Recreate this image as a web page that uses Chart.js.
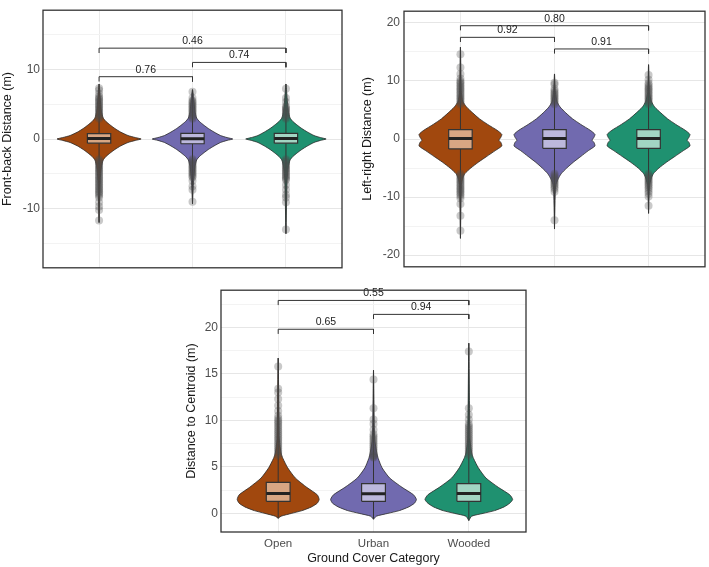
<!DOCTYPE html>
<html>
<head>
<meta charset="utf-8">
<script src="https://cdn.jsdelivr.net/npm/chart.js@4.4.1/dist/chart.umd.min.js"></script>
<style>
  body { margin: 0; background: #fff; width: 709px; height: 567px; position: relative; overflow: hidden; }
  .panel { position: absolute; }
</style>
</head>
<body>
<div class="panel" style="left:0;top:0;width:346px;height:278px"><canvas id="fbChart"></canvas></div>
<div class="panel" style="left:350px;top:0;width:359px;height:278px"><canvas id="lrChart"></canvas></div>
<div class="panel" style="left:180px;top:280px;width:350px;height:287px"><canvas id="dcChart"></canvas></div>
<script>
const categories = ['Open', 'Urban', 'Wooded'];
const pairs = [[1, 2], [2, 3], [1, 3]];

// ---- Front-back distance ----
const fbTicks = [-15, -10, -5, 0, 5, 10, 15];
const fbLevels = [-6, -4, -3, -2.5, -2, -1.5, -1, -0.5, -0.2, 0, 0.2, 0.5, 1, 1.5, 2, 2.5, 3, 4, 6];
const fbOpenW = [0.012, 0.025, 0.045, 0.075, 0.12, 0.17, 0.23, 0.31, 0.39, 0.45, 0.39, 0.31, 0.23, 0.17, 0.12, 0.075, 0.045, 0.025, 0.012];
const fbUrbanW = [0.012, 0.025, 0.045, 0.075, 0.12, 0.17, 0.23, 0.30, 0.37, 0.43, 0.37, 0.30, 0.23, 0.17, 0.12, 0.075, 0.045, 0.025, 0.012];
const fbWoodedW = [0.012, 0.025, 0.045, 0.075, 0.12, 0.17, 0.23, 0.30, 0.37, 0.43, 0.37, 0.30, 0.23, 0.17, 0.12, 0.075, 0.045, 0.025, 0.012];
const fbMin = [-12.0, -9.3, -13.6];
const fbMax = [7.9, 7.1, 7.9];
const fbQ1 = [-0.6, -0.68, -0.6];
const fbMed = [0.08, 0.05, 0.08];
const fbQ3 = [0.77, 0.82, 0.8];
const fbOpenPts = [2.9, 3.1, 3.3, 3.5, 3.7, 3.9, 4.1, 4.3, 4.5, 4.7, 4.9, 5.1, 5.3, 5.5, 5.7, 5.9, 6.1, 6.5, 7.0, 7.3,
  -2.9, -3.1, -3.3, -3.5, -3.7, -3.9, -4.1, -4.3, -4.5, -4.7, -4.9, -5.1, -5.3, -5.5, -5.7, -5.9, -6.1, -6.3, -6.5,
  -6.7, -6.9, -7.1, -7.3, -7.5, -7.7, -7.9, -8.1, -8.4, -9.1, -9.7, -10.2, -11.7];
const fbUrbanPts = [2.9, 3.1, 3.3, 3.5, 3.7, 3.9, 4.1, 4.3, 4.5, 4.7, 4.9, 5.1, 5.3, 5.5, 5.9, 6.8,
  -2.9, -3.1, -3.3, -3.5, -3.7, -3.9, -4.1, -4.3, -4.5, -4.7, -4.9, -5.1, -5.3, -5.5, -6.0, -6.8, -7.3, -9.0];
const fbWoodedPts = [2.9, 3.1, 3.3, 3.5, 3.7, 3.9, 4.1, 4.3, 4.5, 4.7, 5.3, 5.9, 7.2,
  -2.9, -3.1, -3.3, -3.5, -3.7, -3.9, -4.1, -4.3, -4.5, -4.7, -4.9, -5.1, -5.3, -5.5, -5.7, -5.9,
  -6.6, -7.3, -8.0, -8.4, -9.1, -13.0];
const fbBracketY = [8.95, 11.0, 13.05];
const fbPvals = ['0.76', '0.74', '0.46'];

// ---- Left-right distance ----
const lrTicks = [-20, -15, -10, -5, 0, 5, 10, 15, 20];
const lrLevels = [-8, -7, -6, -5, -4, -3, -2, -1.2, -0.6, -0.2, 0.3, 0.8, 1.5, 2.5, 3.5, 4.5, 5.5, 6.5, 8];
const lrOpenW = [0.01, 0.02, 0.045, 0.11, 0.19, 0.28, 0.37, 0.44, 0.43, 0.41, 0.43, 0.44, 0.39, 0.29, 0.2, 0.13, 0.065, 0.025, 0.01];
const lrUrbanW = [0.012, 0.035, 0.07, 0.13, 0.2, 0.28, 0.36, 0.43, 0.42, 0.40, 0.42, 0.43, 0.38, 0.28, 0.19, 0.12, 0.06, 0.025, 0.01];
const lrWoodedW = [0.01, 0.025, 0.05, 0.11, 0.19, 0.28, 0.37, 0.44, 0.43, 0.41, 0.43, 0.44, 0.39, 0.29, 0.2, 0.13, 0.065, 0.03, 0.01];
const lrMin = [-17.1, -15.5, -12.8];
const lrMax = [15.8, 11.2, 12.8];
const lrQ1 = [-1.7, -1.6, -1.6];
const lrMed = [0.1, 0.1, 0.1];
const lrQ3 = [1.6, 1.6, 1.6];
const lrOpenPts = [6.0, 6.25, 6.5, 6.75, 7.0, 7.25, 7.5, 7.75, 8.0, 8.25, 8.5, 8.75, 9.0, 9.25, 9.5, 9.75, 10.0, 10.4,
  11.2, 12.3, 14.6,
  -6.0, -6.25, -6.5, -6.75, -7.0, -7.25, -7.5, -7.75, -8.0, -8.25, -8.5, -8.75, -9.0, -9.25, -9.5, -9.8, -10.2,
  -11.2, -13.2, -15.8];
const lrUrbanPts = [6.0, 6.25, 6.5, 6.75, 7.0, 7.25, 7.5, 7.75, 8.0, 8.3, 8.6, 9.4, 9.7,
  -6.0, -6.25, -6.5, -6.75, -7.0, -7.25, -7.5, -7.75, -8.0, -8.3, -8.6, -9.1, -14.0];
const lrWoodedPts = [6.0, 6.25, 6.5, 6.75, 7.0, 7.25, 7.5, 7.75, 8.0, 8.25, 8.5, 8.75, 9.0, 9.3, 9.6, 10.2, 11.0,
  -6.0, -6.25, -6.5, -6.75, -7.0, -7.25, -7.5, -7.75, -8.0, -8.3, -8.6, -9.0, -9.4, -9.9, -11.5];
const lrBracketY = [17.5, 15.5, 19.5];
const lrPvals = ['0.92', '0.91', '0.80'];

// ---- Distance to centroid ----
const dcTicks = [0, 2.5, 5, 7.5, 10, 12.5, 15, 17.5, 20, 22.5];
const dcLevels = [-0.3, 0, 0.3, 0.7, 1.1, 1.5, 2, 2.8, 3.8, 4.9, 5.9, 6.5, 8];
const dcOpenW = [0.03, 0.14, 0.25, 0.35, 0.41, 0.43, 0.41, 0.30, 0.18, 0.10, 0.05, 0.03, 0.012];
const dcUrbanW = [0.03, 0.15, 0.27, 0.37, 0.43, 0.45, 0.42, 0.30, 0.17, 0.09, 0.05, 0.035, 0.012];
const dcWoodedW = [0.03, 0.15, 0.27, 0.37, 0.43, 0.46, 0.43, 0.31, 0.18, 0.10, 0.05, 0.03, 0.012];
const dcMin = [-0.53, -0.63, -0.77];
const dcMax = [16.7, 15.4, 18.3];
const dcQ1 = [1.3, 1.3, 1.3];
const dcMed = [2.15, 2.1, 2.15];
const dcQ3 = [3.33, 3.2, 3.2];
const dcOpenPts = [6.2, 6.4, 6.6, 6.8, 7.0, 7.2, 7.4, 7.6, 7.8, 8.0, 8.2, 8.4, 8.6, 8.8, 9.0, 9.2, 9.4, 9.6, 9.8,
  10.0, 10.2, 10.5, 11.0, 11.6, 12.3, 13.0, 13.4, 15.8];
const dcUrbanPts = [6.0, 6.1, 6.2, 6.3, 6.5, 6.7, 6.9, 7.1, 7.3, 7.5, 7.7, 7.9, 8.1, 8.3, 8.5, 9.0, 9.6, 10.1, 11.3, 14.4];
const dcWoodedPts = [6.2, 6.4, 6.6, 6.8, 7.0, 7.2, 7.4, 7.6, 7.8, 8.0, 8.2, 8.4, 8.6, 8.8, 9.0, 9.2, 9.4, 9.6,
  10.1, 10.6, 11.3, 17.4];
const dcBracketY = [19.8, 21.4, 22.9];
const dcPvals = ['0.65', '0.94', '0.55'];

const violinColors = ['#a1480e', '#716aaf', '#1f9170'];
const boxColors = ['#d8a683', '#bcb8dc', '#a2d5c3'];
const FONT = '"Liberation Sans", Arial, sans-serif';

const panelExtras = {
    id: 'panelExtras',
    afterDatasetsDraw(chart, args, opts) {
        const { ctx, chartArea, scales } = chart;
        ctx.save();
        ctx.font = '10.5px ' + FONT;
        ctx.fillStyle = '#222';
        ctx.textAlign = 'center';
        ctx.textBaseline = 'middle';
        pairs.forEach((p, i) => {
            const x = scales.x.getPixelForValue((p[0] + p[1]) / 2);
            const y = scales.y.getPixelForValue(opts.bracketY[i]) - 7;
            ctx.fillText(opts.labels[i], x, y);
        });
        ctx.strokeStyle = '#333';
        ctx.lineWidth = 1.3;
        ctx.strokeRect(chartArea.left, chartArea.top, chartArea.width, chartArea.height);
        ctx.restore();
    }
};

function buildPanel(canvasId, cfg) {
    const datasets = [];
    const bw = 0.125;
    categories.forEach((cat, i) => {
        const cx = i + 1;
        const w = cfg.widths[i];
        const right = cfg.levels.map((y, k) => ({ x: cx + w[k], y: y }));
        const left = cfg.levels.map((y, k) => ({ x: cx - w[k], y: y })).reverse();
        const outline = [{ x: cx, y: cfg.min[i] }].concat(right, [{ x: cx, y: cfg.max[i] }], left, [{ x: cx, y: cfg.min[i] }]);

        // violin
        datasets.push({
            data: outline, showLine: true, fill: 'shape', tension: 0.2,
            backgroundColor: violinColors[i], borderColor: '#2b2b2b', borderWidth: 0.8,
            pointRadius: 0, order: 5
        });
        // whisker line through the violin
        datasets.push({
            data: [{ x: cx, y: cfg.min[i] }, { x: cx, y: cfg.max[i] }], showLine: true,
            borderColor: '#333', borderWidth: 1, pointRadius: 0, order: 4
        });
        // box
        datasets.push({
            data: [{ x: cx - bw, y: cfg.q1[i] }, { x: cx + bw, y: cfg.q1[i] }, { x: cx + bw, y: cfg.q3[i] },
                   { x: cx - bw, y: cfg.q3[i] }, { x: cx - bw, y: cfg.q1[i] }],
            showLine: true, fill: 'shape', backgroundColor: boxColors[i],
            borderColor: '#333', borderWidth: 1.2, pointRadius: 0, order: 3
        });
        // median
        datasets.push({
            data: [{ x: cx - bw, y: cfg.med[i] }, { x: cx + bw, y: cfg.med[i] }], showLine: true,
            borderColor: '#222', borderWidth: 3, pointRadius: 0, order: 2
        });
        // outlying points
        datasets.push({
            data: cfg.points[i].map(y => ({ x: cx, y: y })), showLine: false,
            pointRadius: 4, pointBorderWidth: 0, backgroundColor: 'rgba(75,75,75,0.3)', order: 1
        });
    });
    // brackets
    pairs.forEach((p, i) => {
        const y = cfg.bracketY[i];
        datasets.push({
            data: [{ x: p[0], y: y - cfg.leg }, { x: p[0], y: y }, { x: p[1], y: y }, { x: p[1], y: y - cfg.leg }],
            showLine: true, borderColor: '#333', borderWidth: 1, pointRadius: 0, order: 0
        });
    });

    new Chart(document.getElementById(canvasId), {
        type: 'scatter',
        data: { datasets: datasets },
        plugins: [panelExtras],
        options: {
            responsive: true,
            maintainAspectRatio: false,
            animation: false,
            events: [],
            layout: { padding: cfg.padding },
            plugins: {
                legend: { display: false },
                tooltip: { enabled: false },
                panelExtras: { bracketY: cfg.bracketY, labels: cfg.pvals }
            },
            scales: {
                x: {
                    type: 'linear', min: 0.4, max: 3.6,
                    afterBuildTicks: s => { s.ticks = [1, 2, 3].map(v => ({ value: v })); },
                    afterFit: s => { s.height = cfg.xHeight; },
                    grid: { color: '#ebebeb', drawTicks: false },
                    border: { display: false },
                    ticks: {
                        display: cfg.showX, padding: 5, color: '#4d4d4d',
                        font: { family: FONT, size: 11.5 },
                        callback: v => categories[v - 1]
                    },
                    title: {
                        display: cfg.showX, text: 'Ground Cover Category', color: '#1a1a1a',
                        font: { family: FONT, size: 12.5 }, padding: { top: 0, bottom: 1 }
                    }
                },
                y: {
                    type: 'linear', min: cfg.yMin, max: cfg.yMax,
                    afterBuildTicks: s => { s.ticks = cfg.ticks.map(v => ({ value: v })); },
                    afterFit: s => { s.width = cfg.yWidth; },
                    grid: {
                        drawTicks: false,
                        color: c => (c.tick && c.tick.value % cfg.labelStep === 0) ? '#e6e6e6' : '#f3f3f3'
                    },
                    border: { display: false },
                    ticks: {
                        padding: cfg.tickPad, color: '#4d4d4d', font: { family: FONT, size: 12 },
                        callback: v => (v % cfg.labelStep === 0 ? String(v) : '')
                    },
                    title: {
                        display: true, text: cfg.yTitle, color: '#1a1a1a',
                        font: { family: FONT, size: 12.5 }, padding: { top: cfg.titlePad, bottom: 0 }
                    }
                }
            }
        }
    });
}

buildPanel('fbChart', {
    levels: fbLevels, widths: [fbOpenW, fbUrbanW, fbWoodedW], min: fbMin, max: fbMax,
    q1: fbQ1, med: fbMed, q3: fbQ3, points: [fbOpenPts, fbUrbanPts, fbWoodedPts],
    bracketY: fbBracketY, pvals: fbPvals, leg: 0.7,
    ticks: fbTicks, labelStep: 10, yMin: -18.5, yMax: 18.5, yTitle: 'Front-back Distance (m)',
    yWidth: 43, tickPad: 3, titlePad: 0, xHeight: 0, showX: false,
    padding: { top: 2, right: 4, bottom: 4, left: 0 }
});

buildPanel('lrChart', {
    levels: lrLevels, widths: [lrOpenW, lrUrbanW, lrWoodedW], min: lrMin, max: lrMax,
    q1: lrQ1, med: lrMed, q3: lrQ3, points: [lrOpenPts, lrUrbanPts, lrWoodedPts],
    bracketY: lrBracketY, pvals: lrPvals, leg: 0.8,
    ticks: lrTicks, labelStep: 10, yMin: -22, yMax: 22, yTitle: 'Left-right Distance (m)',
    yWidth: 54, tickPad: 4, titlePad: 10, xHeight: 0, showX: false,
    padding: { top: 2, right: 3, bottom: 4, left: 0 }
});

buildPanel('dcChart', {
    levels: dcLevels, widths: [dcOpenW, dcUrbanW, dcWoodedW], min: dcMin, max: dcMax,
    q1: dcQ1, med: dcMed, q3: dcQ3, points: [dcOpenPts, dcUrbanPts, dcWoodedPts],
    bracketY: dcBracketY, pvals: dcPvals, leg: 0.5,
    ticks: dcTicks, labelStep: 5, yMin: -2, yMax: 24, yTitle: 'Distance to Centroid (m)',
    yWidth: 41, tickPad: 3, titlePad: 4, xHeight: 35, showX: true,
    padding: { top: 5, right: 4, bottom: 0, left: 0 }
});
</script>
</body>
</html>
